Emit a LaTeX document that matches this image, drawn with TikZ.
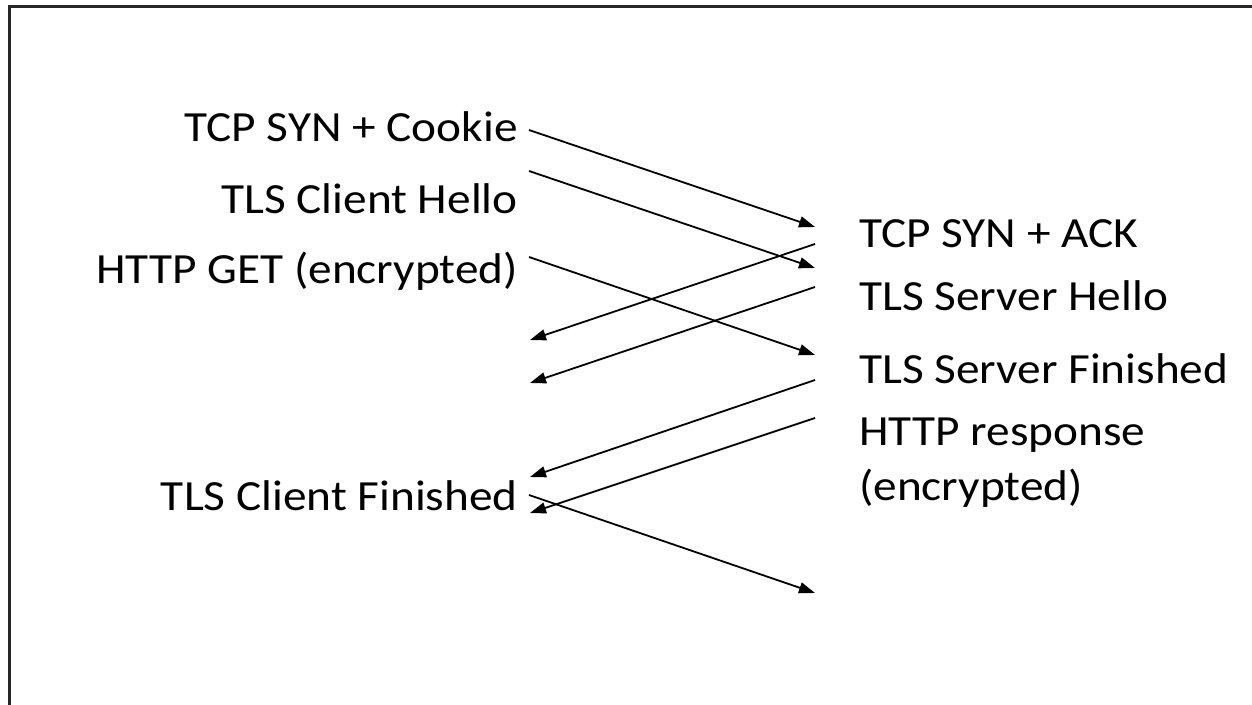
\documentclass[tikz,border=0pt]{standalone}
\usepackage{fontspec}
\setmainfont{Carlito}[FakeStretch=1.1]
\usetikzlibrary{arrows.meta}

\begin{document}
\begin{tikzpicture}[x=1pt, y=-1pt,
    lbl/.style={inner sep=0pt, font=\fontsize{43}{55}\selectfont},
    msg/.style={line width=1.8pt, -{Triangle[length=16pt, width=11pt]}}]
        \useasboundingbox (0,0) rectangle (1252,704);
        \clip (0,0) rectangle (1252,704);
        \draw[line width=3pt, black!85] (9,720) -- (9,6) -- (1260,6);

        \node[lbl, anchor=base east] at (518, 141)  (cookie)      {TCP SYN + Cookie};
        \node[lbl, anchor=base east] at (518, 213)  (clienthello) {TLS Client Hello};
        \node[lbl, anchor=base east] at (518, 283)  (httpget)     {HTTP GET (encrypted)};
        \node[lbl, anchor=base east] at (518, 510)  (clientfin)   {TLS Client Finished};

        \node[lbl, anchor=base west] at (859, 247)  (synack)      {TCP SYN + ACK};
        \node[lbl, anchor=base west] at (859, 310)  (serverhello) {TLS Server Hello};
        \node[lbl, anchor=base west] at (859, 383)  (serverfin)   {TLS Server Finished};
        \node[lbl, anchor=base west, align=left] at (859, 500)  (httpresp) {HTTP response\\(encrypted)};

        \coordinate (l1) at (529, 130);
        \coordinate (l2) at (529, 171);
        \coordinate (l3) at (529, 257);
        \coordinate (l4) at (530, 340);
        \coordinate (l5) at (530, 383);
        \coordinate (l6) at (530, 477);
        \coordinate (l7) at (530, 513);
        \coordinate (l8) at (529, 495);

        \coordinate (r1) at (815, 227);
        \coordinate (r2) at (815, 268);
        \coordinate (r3) at (815, 355);
        \coordinate (r4) at (815, 244);
        \coordinate (r5) at (815, 287);
        \coordinate (r6) at (815, 380);
        \coordinate (r7) at (815, 418);
        \coordinate (r8) at (815, 593);

        \draw[msg]  (l1) -- (r1);
        \draw[msg]  (l2) -- (r2);
        \draw[msg]  (l3) -- (r3);

        \draw[msg]  (r4) -- (l4);
        \draw[msg]  (r5) -- (l5);
        \draw[msg]  (r6) -- (l6);
        \draw[msg]  (r7) -- (l7);

        \draw[msg]  (l8) -- (r8);
      \end{tikzpicture}
\end{document}
